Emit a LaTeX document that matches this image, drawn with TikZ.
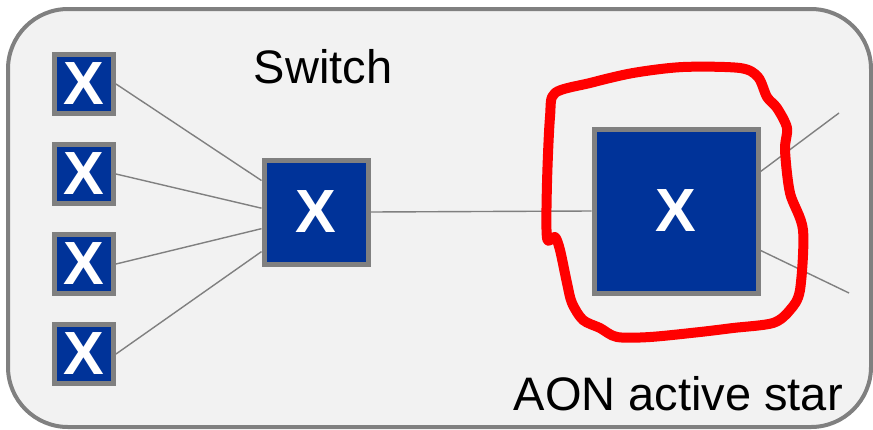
\documentclass[tikz,border=0pt]{standalone}
\usepackage{fontspec}
\setmainfont{Liberation Sans}
\usepackage{xcolor}
\usepackage{tikz}
\usetikzlibrary{positioning, calc}

\definecolor{panelgray}{HTML}{F2F2F2}
\definecolor{framegray}{HTML}{808080}
\definecolor{xblue}{HTML}{003399}

\begin{document}
\begin{tikzpicture}[x=1pt, y=-1pt,
    xbox/.style={draw=framegray, fill=xblue, line width=5pt, inner sep=0pt,
      text=white, font=\fontsize{61}{61}\selectfont\bfseries},
    link/.style={draw=framegray, line width=1.4pt},
    label/.style={font=\fontsize{47}{52}\selectfont, inner sep=0pt}]
    \useasboundingbox (0,0) rectangle (873,429);

    % panel
    \draw[framegray, fill=panelgray, line width=4pt, rounded corners=60pt]
      (8,9) rectangle (871,427);

    % end nodes
    \node[xbox, minimum size=59pt] (s1) at (84,84) {X};
    \node[xbox, minimum size=59pt] (s2) at (84,174) {X};
    \node[xbox, minimum size=59pt] (s3) at (84,264) {X};
    \node[xbox, minimum size=59pt] (s4) at (84,354) {X};

    % switch and star
    \node[xbox, minimum size=104pt] (sw) at (316,212) {X};
    \node[xbox, minimum size=164pt] (star) at (676,211) {X};

    \node[label] (swlabel) at (323,67) {Switch};
    \node[label, anchor=base east] (starlabel) at (843,410) {AON active star};

    \coordinate (out1) at (839,113);
    \coordinate (out2) at (849,293);

    % links
    \draw[link] (s1.east) -- (sw.150);
    \draw[link] (s2.east) -- (sw.176);
    \draw[link] (s3.east) -- (sw.197);
    \draw[link] (s4.east) -- (sw.216);
    \draw[link] (sw.east) -- (star.west);
    \draw[link] (star.25) -- (out1);
    \draw[link] (star.335) -- (out2);

    % highlight
    \draw[red, line width=10pt, line cap=round, line join=round]
      plot[smooth cycle, tension=0.5] coordinates {
        (555,93) (590,83) (633,73) (683,67) (740,68) (758,77) (767,97)
        (777,108) (787,128) (785,150) (790,193) (803,230) (800,290)
        (790,310) (773,323) (733,328) (700,332) (650,337) (617,337)
        (600,328) (583,320) (572,303) (567,283) (560,250) (555,237)
        (547,238) (547,183) (550,117)};
  \end{tikzpicture}
\end{document}
